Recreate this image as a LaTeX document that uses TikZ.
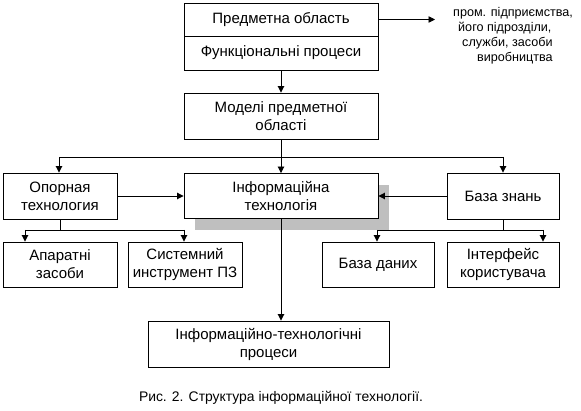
\documentclass[tikz,border=0pt]{standalone}
\usepackage{fontspec}
\setmainfont{Liberation Sans}
\usetikzlibrary{arrows.meta,calc}
\begin{document}
\begin{tikzpicture}[x=1pt,y=-1pt,
  box/.style={draw=black,line width=0.9pt,fill=white,inner sep=0pt,align=center,
    font=\fontsize{15}{18}\selectfont,anchor=center},
  conn/.style={line width=0.9pt,draw=black},
  arr/.style={conn,-{Triangle[length=6.5pt,width=6.5pt]}}]
\useasboundingbox (0,0) rectangle (581,411);
% shadow
\fill[gray!50] (195,185) rectangle (389,230);
% nodes
\node[box,minimum width=194pt,minimum height=33pt] (pred) at (281,19.5) {Предметна область};
\node[box,minimum width=194pt,minimum height=34pt] (func) at (281,53) {Функціональні процеси};
\node[box,minimum width=194pt,minimum height=46pt] (model) at (281,116) {Моделі предметної\\області};
\node[box,minimum width=114pt,minimum height=46pt] (opor) at (60,196) {Опорная\\технология};
\node[box,minimum width=194pt,minimum height=45pt] (info) at (281,196) {Інформаційна\\технологія};
\node[box,minimum width=112pt,minimum height=46pt] (baza) at (503,196) {База знань};
\node[box,minimum width=114pt,minimum height=45pt] (apar) at (60,264.5) {Апаратні\\засоби};
\node[box,minimum width=114pt,minimum height=45pt] (sys) at (185,264.5) {Системний\\инструмент ПЗ};
\node[box,minimum width=112pt,minimum height=45pt] (bd) at (378,264.5) {База даних};
\node[box,minimum width=112pt,minimum height=45pt] (intf) at (503,264.5) {Інтерфейс\\користувача};
\node[box,minimum width=241pt,minimum height=46pt] (itp) at (268.5,344) {Інформаційно-технологічні\\процеси};
\node[align=left,inner sep=0pt,anchor=west,font=\fontsize{12.6}{15}\selectfont] (note) at (453,35.5)
  {пром. підприємства,\\\hspace*{5pt}його підрозділи,\\\hspace*{9pt}служби, засоби\\\hspace*{24pt}виробництва};
\node[inner sep=0pt,font=\fontsize{13.9}{16}\selectfont] (cap) at (281,398) {Рис. 2. Структура інформаційної технології.};
% connectors
\coordinate (noteend) at (435,19.5);
\draw[arr] (pred.east) -- (noteend);
\draw[arr] (func.south) -- (model.north);
\coordinate (hub) at (281,157);
\coordinate (hl) at (59,157);
\coordinate (hr) at (503,157);
\draw[conn] (model.south) -- (hub);
\draw[conn] (hl) -- (hr);
\draw[arr] (hl) -- (hl |- opor.north);
\draw[arr] (hub) -- (info.north);
\draw[arr] (hr) -- (baza.north);
\draw[arr] (opor.east) -- (info.west);
\draw[arr] (baza.west) -- (info.east |- baza.west);
% left lower branch
\coordinate (lh) at (60,230);
\coordinate (la) at (25,230);
\coordinate (lb) at (184,230);
\draw[conn] (opor.south) -- (lh);
\draw[conn] (la) -- (lb);
\draw[arr] (la) -- (la |- apar.north);
\draw[arr] (lb) -- (lb |- sys.north);
% right lower branch
\coordinate (rh) at (503,230);
\coordinate (ra) at (377,230);
\coordinate (rb) at (543,230);
\draw[conn] (baza.south) -- (rh);
\draw[conn] (ra) -- (rb);
\draw[arr] (ra) -- (ra |- bd.north);
\draw[arr] (rb) -- (rb |- intf.north);
% to processes
\draw[arr] (info.south) -- (info.south |- itp.north);
\end{tikzpicture}
\end{document}
